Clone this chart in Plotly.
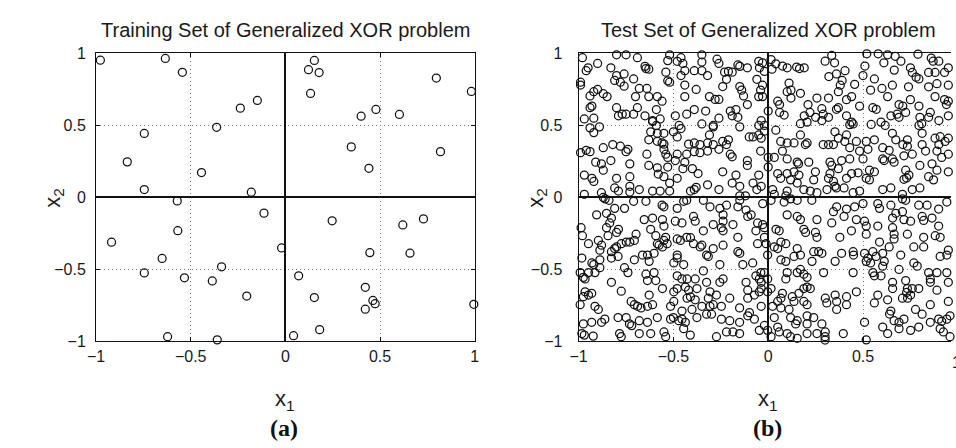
import plotly.graph_objects as go

# ---------------- data ----------------
train_x = [-0.977, -0.634, -0.544, -0.148, -0.238, -0.363, -0.745, -0.835, -0.443,
           0.153, 0.122, 0.178, 0.133, 0.797, 0.982, 0.478, 0.40, 0.602, 0.348, 0.819, 0.441,
           -0.745, -0.18, -0.571, -0.113, -0.568, -0.918, -0.02, -0.651, -0.337, -0.745, -0.533, -0.386, -0.204,
           0.247, 0.62, 0.729, 0.446, 0.658, 0.07, 0.422, 0.153,
           0.462, 0.474, 0.422, 0.995, 0.181, 0.043, -0.622, -0.36]
train_y = [0.953, 0.965, 0.869, 0.673, 0.62, 0.487, 0.444, 0.247, 0.173,
           0.951, 0.887, 0.867, 0.722, 0.829, 0.736, 0.611, 0.564, 0.576, 0.351, 0.318, 0.202,
           0.055, 0.036, -0.024, -0.109, -0.231, -0.311, -0.351, -0.424, -0.482, -0.524, -0.558, -0.58, -0.685,
           -0.162, -0.191, -0.149, -0.384, -0.387, -0.544, -0.624, -0.695,
           -0.715, -0.738, -0.776, -0.742, -0.918, -0.96, -0.967, -0.989]

test_top_left = [
    (-0.75,0.99),(-0.80,0.99),(-0.69,0.97),(-0.52,0.99),(-0.46,0.97),(-0.35,0.99),(-0.27,0.96),(-0.53,0.95),(-0.48,0.945),(-0.35,0.94),(-0.98,0.97),
    (-0.90,0.93),(-0.95,0.90),(-0.96,0.88),(-0.83,0.90),(-0.65,0.91),(-0.63,0.89),(-0.645,0.895),(-0.54,0.87),(-0.45,0.93),(-0.44,0.88),(-0.39,0.88),(-0.35,0.88),(-0.26,0.93),(-0.15,0.91),(-0.11,0.90),(-0.19,0.87),(-0.21,0.875),(-0.23,0.87),(-0.16,0.92),(-0.05,0.945),
    (-0.99,0.80),(-0.99,0.78),(-0.80,0.846),(-0.76,0.857),(-0.81,0.812),(-0.78,0.80),(-0.71,0.823),(-0.76,0.772),(-0.53,0.81),(-0.46,0.846),(-0.32,0.846),(-0.22,0.82),(-0.06,0.82),(-0.24,0.77),(-0.15,0.77),(-0.44,0.78),(-0.52,0.80),
    (-0.92,0.734),(-0.90,0.75),(-0.94,0.705),(-0.87,0.72),(-0.85,0.70),(-0.68,0.757),(-0.64,0.757),(-0.70,0.70),(-0.63,0.70),(-0.585,0.70),(-0.56,0.668),(-0.44,0.70),(-0.38,0.75),(-0.31,0.70),(-0.28,0.68),(-0.26,0.68),(-0.14,0.745),(-0.13,0.705),(-0.05,0.70),
    (-0.94,0.623),(-0.93,0.634),(-0.80,0.623),(-0.79,0.567),(-0.77,0.578),(-0.75,0.578),(-0.69,0.623),(-0.71,0.578),(-0.59,0.61),(-0.65,0.567),(-0.61,0.534),(-0.57,0.545),(-0.49,0.567),(-0.43,0.578),(-0.39,0.61),(-0.33,0.60),(-0.26,0.55),(-0.20,0.60),(-0.17,0.61),(-0.11,0.645),(-0.19,0.567),(-0.16,0.556),(-0.29,0.49),
    (-0.97,0.545),(-0.92,0.55),(-0.94,0.483),(-0.89,0.49),(-0.92,0.45),(-0.61,0.527),(-0.59,0.50),(-0.47,0.50),(-0.46,0.478),(-0.35,0.51),(-0.29,0.50),(-0.15,0.49),(-0.05,0.50),
    (-0.62,0.456),(-0.585,0.445),(-0.55,0.445),(-0.50,0.456),(-0.48,0.42),(-0.63,0.40),(-0.585,0.39),(-0.56,0.378),(-0.55,0.37),(-0.42,0.37),(-0.39,0.378),(-0.36,0.367),(-0.31,0.434),(-0.24,0.39),(-0.21,0.40),(-0.22,0.367),(-0.10,0.42),(-0.08,0.42),(-0.05,0.434),(-0.29,0.367),(-0.32,0.378),
    (-0.99,0.311),(-0.96,0.327),(-0.94,0.318),(-0.87,0.345),(-0.82,0.367),(-0.78,0.356),(-0.74,0.334),(-0.75,0.318),(-0.64,0.30),(-0.55,0.334),(-0.54,0.30),(-0.53,0.278),(-0.48,0.30),(-0.43,0.30),(-0.39,0.318),(-0.36,0.311),(-0.32,0.322),(-0.26,0.334),(-0.19,0.282),(-0.20,0.30),(-0.11,0.256),(-0.04,0.322),
    (-0.91,0.245),(-0.88,0.233),(-0.87,0.189),(-0.83,0.256),(-0.73,0.233),(-0.63,0.222),(-0.585,0.206),(-0.53,0.211),(-0.49,0.256),(-0.45,0.20),(-0.44,0.244),(-0.40,0.20),(-0.37,0.166),(-0.24,0.178),(-0.17,0.155),(-0.11,0.222),(-0.05,0.155),
    (-0.97,0.155),(-0.93,0.133),(-0.92,0.111),(-0.80,0.133),(-0.81,0.066),(-0.73,0.144),(-0.73,0.077),(-0.55,0.144),(-0.58,0.162),(-0.48,0.133),(-0.52,0.10),(-0.68,0.055),(-0.61,0.044),(-0.39,0.055),(-0.38,0.07),(-0.32,0.088),(-0.26,0.055),(-0.19,0.10),(-0.15,0.077),(-0.08,0.10),(-0.06,0.055),
    (-0.97,0.022),(-0.88,0.033),(-0.87,0.0),(-0.79,0.044),(-0.73,0.037),(-0.57,0.044),(-0.52,0.044),(-0.41,0.044),(-0.15,0.011),(-0.12,0.011),
]

test_top_right = [
    (0.335,0.986),(0.52,0.997),(0.58,0.997),(0.63,0.99),(0.67,0.98),(0.79,0.995),(0.86,0.968),(0.87,0.946),(0.30,0.946),(0.35,0.935),(0.51,0.912),(0.61,0.935),(0.70,0.946),(0.015,0.957),(-0.03,0.935),
    (0.04,0.928),(0.075,0.912),(0.10,0.90),(0.15,0.905),(0.19,0.90),(0.165,0.895),(0.02,0.89),(-0.02,0.875),(0.405,0.88),(0.36,0.857),(0.32,0.839),(0.50,0.846),(0.56,0.823),(0.665,0.884),(0.75,0.90),(0.76,0.868),(0.78,0.835),(0.846,0.868),(0.88,0.868),(0.93,0.868),(0.95,0.90),(0.90,0.946),(-0.046,0.90),
    (0.11,0.794),(0.12,0.745),(0.17,0.723),(0.10,0.734),(-0.03,0.779),(-0.04,0.745),(0.39,0.812),(0.38,0.779),(0.37,0.734),(0.456,0.785),(0.54,0.745),(0.60,0.757),(0.655,0.779),(0.74,0.768),(0.795,0.823),(0.846,0.768),(0.89,0.79),(0.95,0.779),
    (-0.03,0.70),(0.05,0.668),(0.06,0.645),(0.12,0.69),(0.21,0.645),(0.257,0.69),(0.318,0.69),(0.283,0.616),(0.37,0.623),(0.413,0.679),(0.44,0.70),(0.482,0.634),(0.552,0.623),(0.57,0.612),(0.63,0.70),(0.69,0.645),(0.71,0.634),(0.75,0.679),(0.795,0.634),(0.88,0.70),(0.93,0.679),(0.94,0.645),(0.95,0.668),(0.0,0.60),(0.084,0.572),(0.06,0.59),
    (0.19,0.567),(0.22,0.59),(0.25,0.556),(0.29,0.578),(0.283,0.534),(0.36,0.612),(0.318,0.556),(0.413,0.567),(0.44,0.523),(0.448,0.51),(0.43,0.505),(0.543,0.507),(0.595,0.523),(0.617,0.50),(0.647,0.567),(0.68,0.578),(0.69,0.556),(0.725,0.59),(0.80,0.556),(0.81,0.512),(0.795,0.50),(0.846,0.556),(0.855,0.59),(0.90,0.534),(0.95,0.567),(0.205,0.523),(-0.037,0.534),(-0.02,0.50),(0.17,0.512),
    (-0.02,0.46),(0.04,0.467),(0.17,0.434),(0.205,0.378),(0.352,0.456),(0.413,0.434),(0.37,0.411),(0.404,0.389),(0.465,0.389),(0.517,0.389),(0.56,0.40),(0.655,0.445),(0.673,0.40),(0.734,0.40),(0.812,0.445),(0.88,0.411),(0.907,0.422),(0.933,0.389),(0.95,0.411),(-0.037,0.411),
    (0.066,0.389),(0.10,0.378),(0.136,0.378),(0.196,0.367),(0.29,0.367),(0.318,0.367),(0.344,0.367),(0.43,0.345),(0.482,0.322),(0.526,0.334),(0.604,0.345),(0.638,0.327),(0.71,0.367),(0.734,0.356),(0.76,0.30),(0.812,0.367),(0.83,0.322),(0.90,0.367),(0.89,0.322),(0.95,0.30),(0.075,0.322),(0.032,0.278),(0.0,0.278),(0.10,0.267),
    (0.153,0.245),(0.16,0.233),(0.214,0.245),(0.326,0.245),(0.335,0.222),(0.387,0.256),(0.43,0.267),(0.50,0.267),(0.604,0.267),(0.612,0.256),(0.655,0.267),(0.716,0.289),(0.664,0.245),(0.80,0.222),(0.864,0.233),(0.89,0.189),(0.915,0.278),(0.0,0.211),(0.05,0.166),(0.10,0.166),(0.136,0.178),(0.162,0.155),(0.249,0.178),(0.326,0.166),(0.37,0.20),(0.44,0.166),(0.474,0.171),(0.534,0.189),(0.56,0.178),(0.725,0.189),(0.742,0.155),(0.95,0.178),
    (-0.037,0.077),(0.023,0.055),(0.066,0.133),(0.118,0.122),(0.153,0.10),(0.24,0.122),(0.318,0.133),(0.344,0.111),(0.352,0.077),(0.36,0.066),(0.413,0.133),(0.517,0.133),(0.534,0.122),(0.647,0.066),(0.716,0.126),(0.73,0.135),(0.846,0.144),(0.872,0.122),(0.968,0.122),(0.032,0.022),(0.10,0.044),(0.188,0.055),(0.222,0.044),(0.257,0.033),(0.31,0.055),(0.40,0.066),(0.448,0.033),(0.482,0.044),(0.604,0.055),(0.708,0.022),(0.76,0.055),(0.80,0.066),(0.093,0.011),
]

test_bottom_left = [
    (-0.86,-0.01),(-0.84,-0.02),(-0.71,-0.027),(-0.645,-0.027),(-0.56,-0.054),(-0.55,-0.065),(-0.48,-0.076),(-0.446,-0.027),(-0.43,-0.02),(-0.342,-0.02),(-0.307,-0.065),(-0.255,-0.076),(-0.22,-0.054),(-0.16,-0.065),(-0.117,-0.088),(-0.09,-0.121),(-0.108,-0.132),(-0.81,-0.076),(-0.758,-0.076),(-0.15,-0.02),
    (-0.905,-0.121),(-0.853,-0.11),(-0.827,-0.143),(-0.836,-0.177),(-0.654,-0.154),(-0.61,-0.143),(-0.558,-0.154),(-0.55,-0.199),(-0.49,-0.165),(-0.455,-0.177),(-0.394,-0.132),(-0.385,-0.165),(-0.29,-0.188),(-0.238,-0.165),(-0.186,-0.188),(-0.238,-0.121),(-0.056,-0.177),
    (-0.987,-0.21),(-0.98,-0.266),(-0.853,-0.21),(-0.845,-0.266),(-0.79,-0.221),(-0.80,-0.243),(-0.697,-0.255),(-0.62,-0.221),(-0.593,-0.266),(-0.541,-0.277),(-0.55,-0.299),(-0.48,-0.288),(-0.43,-0.277),(-0.41,-0.28),(-0.35,-0.332),(-0.342,-0.232),(-0.247,-0.21),(-0.238,-0.232),(-0.16,-0.277),(-0.065,-0.232),(-0.056,-0.321),
    (-0.948,-0.321),(-0.896,-0.299),(-0.879,-0.332),(-0.80,-0.344),(-0.775,-0.321),(-0.749,-0.31),(-0.73,-0.31),(-0.706,-0.299),(-0.585,-0.321),(-0.576,-0.332),(-0.558,-0.344),(-0.533,-0.321),(-0.463,-0.299),(-0.394,-0.321),(-0.359,-0.344),(-0.325,-0.40),(-0.29,-0.355),(-0.238,-0.332),(-0.16,-0.377),(-0.15,-0.388),(-0.888,-0.366),(-0.827,-0.377),(-0.81,-0.355),
    (-0.983,-0.421),(-0.93,-0.455),(-0.92,-0.466),(-0.888,-0.433),(-0.827,-0.421),(-0.792,-0.41),(-0.706,-0.433),(-0.663,-0.40),(-0.637,-0.40),(-0.628,-0.444),(-0.602,-0.388),(-0.48,-0.40),(-0.48,-0.42),(-0.446,-0.466),(-0.498,-0.455),(-0.316,-0.41),(-0.342,-0.51),(-0.255,-0.466),(-0.134,-0.466),(-0.082,-0.455),(-0.039,-0.522),
    (-0.992,-0.522),(-0.975,-0.555),(-0.966,-0.566),(-0.948,-0.522),(-0.914,-0.522),(-0.888,-0.488),(-0.758,-0.488),(-0.74,-0.522),(-0.645,-0.533),(-0.602,-0.522),(-0.637,-0.577),(-0.593,-0.577),(-0.48,-0.544),(-0.455,-0.566),(-0.428,-0.566),(-0.385,-0.566),(-0.325,-0.589),(-0.255,-0.589),(-0.238,-0.566),(-0.117,-0.589),(-0.108,-0.644),(-0.065,-0.544),(-0.047,-0.566),(-0.827,-0.589),
    (-0.966,-0.655),(-0.948,-0.678),(-0.931,-0.666),(-0.975,-0.689),(-0.775,-0.651),(-0.628,-0.678),(-0.558,-0.633),(-0.498,-0.655),(-0.48,-0.633),(-0.437,-0.622),(-0.42,-0.644),(-0.376,-0.633),(-0.307,-0.655),(-0.428,-0.70),(-0.41,-0.69),(-0.385,-0.711),(-0.316,-0.70),(-0.273,-0.678),(-0.203,-0.70),(-0.108,-0.70),(-0.073,-0.678),(-0.047,-0.655),
    (-0.992,-0.745),(-0.914,-0.756),(-0.896,-0.778),(-0.723,-0.722),(-0.706,-0.745),(-0.689,-0.756),(-0.671,-0.767),(-0.637,-0.756),(-0.61,-0.745),(-0.515,-0.756),(-0.498,-0.722),(-0.455,-0.789),(-0.402,-0.778),(-0.35,-0.756),(-0.307,-0.756),(-0.29,-0.745),(-0.247,-0.756),(-0.151,-0.767),(-0.099,-0.80),(-0.108,-0.822),(-0.749,-0.834),(-0.792,-0.834),
    (-0.931,-0.867),(-0.975,-0.878),(-0.879,-0.867),(-0.862,-0.845),(-0.732,-0.878),(-0.72,-0.89),(-0.68,-0.856),(-0.637,-0.867),(-0.585,-0.834),(-0.515,-0.845),(-0.50,-0.834),(-0.472,-0.856),(-0.455,-0.845),(-0.437,-0.867),(-0.376,-0.834),(-0.325,-0.811),(-0.299,-0.811),(-0.247,-0.845),(-0.203,-0.856),(-0.151,-0.867),(-0.073,-0.845),(-0.446,-0.911),
    (-0.983,-0.945),(-0.97,-0.956),(-0.923,-0.963),(-0.784,-0.945),(-0.775,-0.967),(-0.68,-0.945),(-0.62,-0.945),(-0.55,-0.934),(-0.541,-0.967),(-0.411,-0.956),(-0.273,-0.967),(-0.22,-0.934),(-0.186,-0.934),(-0.151,-0.945),(-0.047,-0.923),
]

test_bottom_right = [
    (-0.029,-0.043),(0.015,-0.02),(0.084,-0.032),(0.153,-0.02),(0.23,-0.02),(0.361,-0.065),(0.413,-0.081),(0.456,-0.065),(0.50,-0.043),(0.578,-0.043),(0.587,-0.076),(0.647,-0.054),(0.708,-0.01),(0.725,-0.02),(0.794,-0.054),(0.838,-0.054),(0.899,-0.081),(0.942,-0.032),(0.344,-0.099),(0.118,-0.01),
    (0.10,-0.121),(0.153,-0.132),(0.17,-0.154),(0.335,-0.177),(0.40,-0.132),(0.465,-0.154),(0.508,-0.165),(0.517,-0.199),(0.578,-0.199),(0.656,-0.143),(0.673,-0.11),(0.708,-0.099),(0.716,-0.154),(0.751,-0.165),(0.812,-0.132),(0.82,-0.16),(0.864,-0.143),(0.899,-0.199),(-0.029,-0.188),(-0.02,-0.21),(0.257,-0.154),
    (0.041,-0.221),(0.058,-0.232),(0.188,-0.221),(0.197,-0.243),(0.249,-0.243),(0.257,-0.277),(0.378,-0.277),(0.439,-0.232),(0.517,-0.255),(0.587,-0.31),(0.656,-0.21),(0.664,-0.255),(0.664,-0.288),(0.734,-0.255),(0.82,-0.277),(0.881,-0.266),(0.907,-0.277),(-0.02,-0.277),(-0.011,-0.321),(0.067,-0.31),(0.093,-0.321),
    (0.032,-0.344),(0.05,-0.355),(0.153,-0.355),(0.17,-0.40),(0.24,-0.377),(0.266,-0.377),(0.283,-0.388),(0.387,-0.388),(0.448,-0.377),(0.45,-0.40),(0.508,-0.388),(0.526,-0.421),(0.552,-0.377),(0.569,-0.41),(0.604,-0.388),(0.638,-0.344),(0.699,-0.40),(0.768,-0.344),(0.82,-0.344),(0.907,-0.41),(0.95,-0.366),(0.942,-0.40),(-0.003,-0.40),(0.067,-0.433),(0.093,-0.444),(0.136,-0.41),
    (0.231,-0.444),(0.292,-0.522),(0.17,-0.50),(0.153,-0.522),(0.188,-0.533),(0.205,-0.555),(0.353,-0.444),(0.517,-0.444),(0.54,-0.455),(0.552,-0.522),(0.56,-0.544),(0.595,-0.544),(0.604,-0.477),(0.612,-0.444),(0.69,-0.50),(0.768,-0.455),(0.786,-0.477),(0.846,-0.522),(0.855,-0.566),(0.89,-0.522),(0.942,-0.522),(-0.02,-0.522),(-0.003,-0.566),(0.10,-0.522),(0.093,-0.566),(0.448,-0.522),(-0.037,-0.589),
    (-0.037,-0.633),(0.015,-0.633),(0.205,-0.622),(0.222,-0.633),(0.188,-0.633),(0.465,-0.655),(0.656,-0.589),(0.656,-0.633),(0.725,-0.577),(0.734,-0.633),(0.76,-0.633),(0.794,-0.633),(0.73,-0.66),(0.855,-0.589),(0.89,-0.644),(0.95,-0.589),(-0.003,-0.655),(0.075,-0.666),(0.162,-0.666),(0.127,-0.689),
    (0.067,-0.70),(0.05,-0.722),(0.136,-0.722),(0.188,-0.722),(0.205,-0.745),(0.301,-0.70),(0.309,-0.733),(0.353,-0.678),(0.361,-0.722),(0.361,-0.778),(0.413,-0.689),(0.413,-0.745),(0.56,-0.733),(0.578,-0.678),(0.63,-0.711),(0.708,-0.70),(0.735,-0.70),(0.751,-0.678),(0.855,-0.745),(0.95,-0.722),(0.023,-0.756),(-0.037,-0.756),(0.067,-0.767),
    (0.11,-0.778),(0.118,-0.834),(0.145,-0.878),(0.153,-0.856),(0.205,-0.822),(0.24,-0.834),(0.205,-0.878),(0.283,-0.878),(0.647,-0.789),(0.64,-0.81),(0.664,-0.856),(0.69,-0.867),(0.716,-0.845),(0.777,-0.778),(0.812,-0.811),(0.899,-0.845),(0.915,-0.86),(0.942,-0.845),(0.959,-0.822),(0.032,-0.834),(-0.02,-0.889),(0.05,-0.90),(0.508,-0.867),
    (0.058,-0.934),(0.10,-0.945),(0.118,-0.967),(0.153,-0.978),(0.205,-0.945),(0.257,-0.945),(0.301,-0.934),(0.30,-0.967),(0.30,-0.99),(0.396,-0.945),(0.517,-0.989),(0.604,-0.90),(0.63,-0.945),(0.69,-0.911),(0.751,-0.923),(0.794,-0.90),(0.855,-0.867),(0.907,-0.911),(0.924,-0.934),(0.959,-0.967),(-0.003,-0.923),(0.015,-0.967),
]

tick_vals = [-1, -0.5, 0, 0.5, 1]
tick_text = ["\u22121", "\u22120.5", "0", "0.5", "1"]
titles = ["Training Set of Generalized XOR problem", "Test Set of Generalized XOR problem"]
panel_tags = ["(a)", "(b)"]

test_pts = test_top_left + test_top_right + test_bottom_left + test_bottom_right
test_x = [p[0] for p in test_pts]
test_y = [p[1] for p in test_pts]

# ---------------- figure ----------------
W, H = 956, 448
SANS = "Liberation Sans, Arial, Helvetica, sans-serif"

marker = dict(symbol="circle-open", size=8, color="#111111", line=dict(width=1.25, color="#111111"))

fig = go.Figure()
fig.add_trace(go.Scatter(x=train_x, y=train_y, mode="markers", marker=marker,
                         xaxis="x", yaxis="y", cliponaxis=False, showlegend=False, hoverinfo="skip"))
fig.add_trace(go.Scatter(x=test_x, y=test_y, mode="markers", marker=marker,
                         xaxis="x2", yaxis="y2", cliponaxis=False, showlegend=False, hoverinfo="skip"))

def px_x(p):
    return p / W

def px_y(p):
    return 1 - p / H

axis_common = dict(
    tickvals=tick_vals, ticktext=tick_text, ticks="inside", ticklen=4, tickwidth=1,
    tickcolor="#111111", showline=True, linecolor="#111111", linewidth=1,
    showgrid=True, gridcolor="#777777", griddash="1px,3px", gridwidth=1,
    zeroline=True, zerolinecolor="#111111", zerolinewidth=2,
    tickfont=dict(family=SANS, size=16, color="#1a1a1a"), fixedrange=True,
)

y_dom = [px_y(346.6), px_y(47.2)]
fig.update_layout(
    width=W, height=H, margin=dict(l=0, r=0, t=0, b=0),
    paper_bgcolor="white", plot_bgcolor="white", showlegend=False,
    xaxis=dict(axis_common, domain=[px_x(88.3), px_x(472.7)], range=[-1, 1], anchor="y", mirror="ticks"),
    yaxis=dict(axis_common, domain=y_dom, range=[-1, 1], anchor="x", mirror="ticks", ticklabelstandoff=6),
    xaxis2=dict(axis_common, domain=[px_x(578.1), 1.0], range=[-1, (956 - 770.5) / 192.4], anchor="y2", mirror="ticks"),
    yaxis2=dict(axis_common, domain=y_dom, range=[-1, 1], anchor="x2", mirror=False, ticklabelstandoff=12),
)

ann = []
centers = [280.5, 770.5]
for i in range(2):
    ann.append(dict(text=titles[i], x=px_x(centers[i]), y=px_y(23), xref="paper", yref="paper",
                    showarrow=False, xanchor="center", yanchor="middle",
                    font=dict(family=SANS, size=20, color="#1a1a1a")))
    ann.append(dict(text="x<sub>1</sub>", x=px_x(centers[i]), y=px_y(407), xref="paper", yref="paper",
                    showarrow=False, xanchor="center", yanchor="middle",
                    font=dict(family=SANS, size=22, color="#1a1a1a")))
    ann.append(dict(text="<b>" + panel_tags[i] + "</b>", x=px_x(centers[i] - 1), y=px_y(437), xref="paper", yref="paper",
                    showarrow=False, xanchor="center", yanchor="middle",
                    font=dict(family="Liberation Serif, Times New Roman, serif", size=24, color="#111111")))
ann.append(dict(text="x<sub>2</sub>", x=px_x(45), y=px_y(197), xref="paper", yref="paper", textangle=-90,
                showarrow=False, xanchor="center", yanchor="middle",
                font=dict(family=SANS, size=22, color="#1a1a1a")))
ann.append(dict(text="x<sub>2</sub>", x=px_x(535), y=px_y(197), xref="paper", yref="paper", textangle=-90,
                showarrow=False, xanchor="center", yanchor="middle",
                font=dict(family=SANS, size=22, color="#1a1a1a")))
# the "1" tick label of the right panel, cut by the page edge as in the original
ann.append(dict(text="1", x=px_x(962), y=px_y(369), xref="paper", yref="paper",
                showarrow=False, xanchor="center", yanchor="middle",
                font=dict(family=SANS, size=16, color="#1a1a1a")))
fig.update_layout(annotations=ann)

fig.write_html("out.html")
